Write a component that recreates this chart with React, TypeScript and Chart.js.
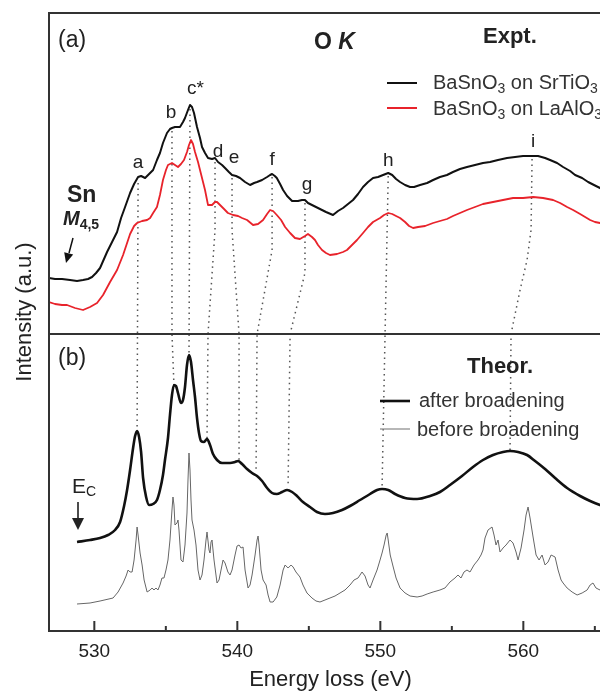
import React, { useEffect, useRef } from 'react';
import { Chart, registerables } from 'chart.js';

Chart.register(...registerables);

const FONT = '"Liberation Sans", Arial, Helvetica, sans-serif';

// ---- axis ----
const xMin = 526.83;
const xMax = 566.2;
const yMin = 0;
const yMax = 618;
const xMajorTicks = [530, 540, 550, 560];
const xMinorTicks = [535, 545, 555, 565];
const panelDivider = 297; // intensity level separating panel (a) and (b)

// ---- (a) experiment: BaSnO3 on SrTiO3 (energy eV, intensity a.u.) ----
const expSTO: [number, number][] = [
  [526.83, 353], [527.25, 352], [527.74, 352], [528.3, 351], [528.79, 350], [529.21, 351], [529.56, 352],
  [529.84, 354], [530.12, 358], [530.4, 363], [530.89, 379], [531.24, 389], [531.59, 399], [531.87, 413],
  [532.15, 424], [532.5, 438], [532.78, 447], [533.06, 454], [533.27, 455], [533.55, 453], [533.83, 457],
  [534.11, 461], [534.38, 471], [534.59, 478], [534.8, 488], [535.08, 498], [535.29, 502], [535.43, 503],
  [535.64, 504], [535.99, 504], [536.2, 509], [536.34, 513], [536.55, 521], [536.69, 526], [536.83, 524],
  [536.97, 518], [537.18, 504], [537.39, 493], [537.53, 484], [537.74, 478], [537.95, 473], [538.23, 472],
  [538.44, 473], [538.65, 469], [538.93, 466], [539.14, 463], [539.41, 459], [539.63, 456], [539.91, 455],
  [540.19, 453], [540.54, 449], [540.89, 446], [541.17, 448], [541.38, 449], [541.73, 451], [542.08, 454],
  [542.29, 456], [542.43, 457], [542.62, 455], [542.76, 453], [542.99, 447], [543.2, 441], [543.48, 435],
  [543.83, 430], [544.24, 430], [544.52, 431], [544.73, 431], [544.94, 428], [545.22, 426], [545.5, 424],
  [545.78, 422], [546.2, 419], [546.69, 416], [547.04, 420], [547.39, 423], [547.74, 427], [548.09, 431],
  [548.44, 437], [548.79, 444], [549.14, 449], [549.49, 453], [549.84, 454], [550.19, 456], [550.55, 458],
  [550.83, 456], [551.1, 452], [551.38, 449], [551.73, 446], [552.08, 444], [552.36, 444], [552.78, 446],
  [553.27, 448], [553.69, 451], [554.17, 454], [554.66, 456], [555.08, 459], [555.57, 462], [556.06, 464],
  [556.62, 466], [557.18, 468], [557.67, 469], [558.23, 471], [558.86, 473], [559.42, 474], [559.98, 475],
  [560.61, 475], [561.03, 475], [561.52, 473], [561.87, 471], [562.36, 468], [562.78, 464], [563.27, 460],
  [563.62, 456], [564.11, 453], [564.53, 449], [564.94, 446], [565.36, 443], [566.2, 437],
];

// ---- (a) experiment: BaSnO3 on LaAlO3 ----
const expLAO: [number, number][] = [
  [526.83, 329], [527.25, 327], [527.74, 326], [528.09, 326], [528.65, 323], [529.21, 321], [529.7, 324],
  [530.19, 328], [530.61, 336], [531.1, 349], [531.59, 361], [532.01, 376], [532.5, 397], [532.78, 405],
  [532.99, 408], [533.34, 410], [533.69, 411], [533.9, 413], [534.11, 418], [534.38, 424], [534.59, 436],
  [534.8, 451], [535.01, 461], [535.15, 466], [535.43, 468], [535.64, 466], [535.85, 464], [536.06, 467],
  [536.27, 471], [536.48, 479], [536.62, 486], [536.76, 491], [536.9, 487], [537.04, 479], [537.25, 469],
  [537.39, 461], [537.6, 449], [537.74, 441], [537.95, 426], [538.23, 426], [538.44, 429], [538.58, 429],
  [538.79, 426], [539.07, 422], [539.34, 418], [539.7, 416], [540.05, 415], [540.33, 413], [540.68, 411],
  [541.1, 406], [541.45, 407], [541.8, 411], [542.08, 417], [542.29, 421], [542.5, 420], [542.76, 416],
  [543.06, 411], [543.34, 404], [543.69, 398], [544.03, 393], [544.38, 392], [544.73, 395], [544.94, 397],
  [545.22, 394], [545.43, 391], [545.64, 386], [545.92, 381], [546.2, 378], [546.48, 376], [546.97, 377],
  [547.39, 379], [547.67, 381], [548.02, 386], [548.37, 391], [548.79, 398], [549.14, 404], [549.49, 409],
  [549.98, 413], [550.26, 416], [550.55, 418], [550.83, 417], [551.1, 415], [551.38, 413], [551.73, 409],
  [552.01, 405], [552.29, 403], [552.64, 404], [553.13, 405], [553.69, 408], [554.17, 410], [554.66, 412],
  [555.08, 415], [555.57, 418], [556.06, 421], [556.62, 424], [557.18, 427], [557.88, 429], [558.58, 431],
  [559.28, 433], [559.98, 433], [560.68, 434], [561.38, 433], [562.08, 431], [562.57, 428], [563.06, 424],
  [563.48, 421], [563.97, 417], [564.32, 414], [564.67, 411], [565.01, 409], [565.36, 408], [566.2, 404],
];

// ---- (b) theory after broadening ----
const theoBroad: [number, number][] = [
  [528.79, 89], [529.7, 91], [530.4, 93], [530.96, 96], [531.45, 101], [531.8, 109], [532.08, 125],
  [532.29, 141], [532.5, 161], [532.71, 183], [532.85, 195], [532.99, 200], [533.13, 194], [533.27, 179],
  [533.41, 153], [533.62, 134], [533.83, 126], [534.11, 127], [534.38, 131], [534.59, 141], [534.8, 156],
  [534.94, 171], [535.15, 193], [535.29, 216], [535.43, 236], [535.57, 246], [535.71, 245], [535.85, 238],
  [536.06, 228], [536.2, 231], [536.34, 244], [536.48, 266], [536.62, 276], [536.76, 269], [536.9, 251],
  [537.04, 234], [537.18, 213], [537.32, 198], [537.46, 190], [537.67, 189], [537.88, 192], [538.09, 186],
  [538.3, 177], [538.58, 171], [538.93, 168], [539.49, 168], [539.84, 169], [540.05, 170], [540.33, 167],
  [540.68, 162], [541.03, 158], [541.38, 155], [541.73, 150], [542.08, 143], [542.43, 138], [542.76, 137],
  [543.13, 139], [543.48, 141], [543.83, 139], [544.17, 135], [544.59, 129], [545.08, 124], [545.57, 119],
  [546.13, 117], [546.69, 118], [547.32, 121], [547.88, 125], [548.58, 131], [549.28, 137], [549.77, 141],
  [550.12, 142], [550.55, 141], [551.03, 137], [551.73, 133], [552.57, 132], [553.48, 135], [554.17, 139],
  [554.87, 146], [555.71, 155], [556.48, 164], [557.18, 171], [557.88, 176], [558.58, 179], [559.07, 180],
  [559.63, 179], [560.26, 176], [560.82, 170], [561.52, 162], [562.22, 153], [563.06, 143], [563.97, 135],
  [564.67, 130], [565.36, 126], [566.2, 122],
];

// ---- (b) theory before broadening ----
const theoRaw: [number, number][] = [
  [528.79, 27], [529.7, 28], [530.4, 30], [531.31, 33], [531.66, 39], [532.01, 48], [532.22, 55], [532.36, 61],
  [532.5, 59], [532.64, 59], [532.78, 71], [532.92, 91], [532.99, 104], [533.06, 96], [533.2, 78], [533.34, 66],
  [533.48, 51], [533.69, 39], [533.9, 41], [534.04, 43], [534.17, 41], [534.31, 43], [534.45, 41], [534.59, 46],
  [534.73, 53], [534.87, 53], [535.01, 61], [535.15, 71], [535.29, 91], [535.43, 121], [535.5, 134], [535.57, 126],
  [535.64, 106], [535.78, 108], [535.85, 111], [535.92, 101], [536.06, 71], [536.2, 69], [536.34, 86],
  [536.48, 118], [536.55, 151], [536.62, 178], [536.69, 161], [536.76, 131], [536.83, 111], [536.97, 101],
  [537.11, 86], [537.25, 61], [537.39, 51], [537.53, 56], [537.67, 71], [537.81, 91], [537.88, 99], [538.02, 81],
  [538.09, 78], [538.16, 89], [538.23, 91], [538.37, 71], [538.58, 48], [538.72, 51], [538.86, 61], [539.0, 71],
  [539.14, 68], [539.34, 59], [539.49, 56], [539.63, 61], [539.84, 76], [539.98, 85], [540.12, 86], [540.26, 83],
  [540.4, 84], [540.54, 61], [540.75, 43], [540.89, 46], [541.03, 56], [541.24, 76], [541.38, 91], [541.45, 95],
  [541.52, 86], [541.66, 61], [541.8, 51], [542.01, 46], [542.15, 36], [542.29, 29], [542.5, 29], [542.76, 34],
  [542.99, 46], [543.2, 61], [543.34, 66], [543.55, 63], [543.76, 66], [543.9, 64], [544.1, 59], [544.38, 54],
  [544.59, 46], [544.87, 38], [545.22, 33], [545.5, 30], [545.78, 29], [546.13, 31], [546.48, 33], [546.83, 35],
  [547.18, 38], [547.53, 41], [547.88, 46], [548.16, 51], [548.44, 53], [548.72, 59], [548.93, 55], [549.14, 46],
  [549.28, 43], [549.49, 51], [549.77, 61], [549.98, 71], [550.12, 78], [550.26, 86], [550.41, 96], [550.48, 98],
  [550.55, 91], [550.69, 76], [550.9, 64], [551.1, 53], [551.38, 43], [551.73, 38], [552.08, 35], [552.57, 34],
  [552.92, 35], [553.27, 37], [553.69, 39], [554.17, 41], [554.52, 43], [554.87, 49], [555.22, 53], [555.43, 56],
  [555.64, 53], [555.85, 59], [556.06, 61], [556.27, 59], [556.55, 66], [556.83, 71], [557.04, 76], [557.18, 81],
  [557.32, 93], [557.53, 101], [557.81, 104], [557.95, 96], [558.09, 86], [558.23, 91], [558.37, 79], [558.58, 83],
  [558.79, 86], [559.07, 91], [559.28, 88], [559.49, 79], [559.63, 71], [559.84, 83], [560.05, 101], [560.19, 116],
  [560.33, 124], [560.47, 113], [560.68, 94], [560.89, 76], [561.1, 71], [561.31, 76], [561.52, 66], [561.73, 69],
  [561.94, 76], [562.22, 74], [562.43, 61], [562.64, 51], [562.78, 48], [563.06, 43], [563.41, 39], [563.76, 36],
  [564.11, 38], [564.46, 41], [564.67, 46], [564.87, 48], [565.08, 43], [565.36, 41], [565.8, 48], [566.2, 45],
];

// ---- dotted guide lines connecting features (energy, intensity) ----
const guideA: [number, number][] = [[533.06, 448], [532.99, 201]];
const guideB: [number, number][] = [[535.43, 500], [535.43, 297], [535.57, 245]];
const guideC: [number, number][] = [[536.69, 522], [536.62, 275]];
const guideD: [number, number][] = [[538.44, 469], [538.44, 401], [537.95, 297], [537.88, 193]];
const guideE: [number, number][] = [[539.63, 453], [539.63, 401], [540.12, 297], [540.12, 171]];
const guideF: [number, number][] = [[542.43, 454], [542.43, 381], [541.38, 297], [541.31, 161]];
const guideG: [number, number][] = [[544.73, 428], [544.73, 358], [543.69, 297], [543.55, 146]];
const guideH: [number, number][] = [[550.55, 455], [550.33, 297], [550.12, 143]];
const guideI: [number, number][] = [[560.61, 472], [560.54, 401], [560.26, 371], [559.77, 341], [559.14, 297], [559.07, 181]];
const guides = [guideA, guideB, guideC, guideD, guideE, guideF, guideG, guideH, guideI];

// ---- feature labels ----
const featureNames = ['a', 'b', 'c*', 'd', 'e', 'f', 'g', 'h', 'i'];
const featureLabelE = [533.06, 535.36, 537.07, 538.65, 539.77, 542.43, 544.87, 550.55, 560.68];
const featureLabelI = [463, 513, 537, 474, 468, 466, 441, 465, 484];

type Seg = { t: string; font: string; dy?: number };

function drawRich(ctx: CanvasRenderingContext2D, x: number, y: number, segs: Seg[]) {
  let cx = x;
  for (const s of segs) {
    ctx.font = s.font;
    ctx.fillText(s.t, cx, y + (s.dy || 0));
    cx += ctx.measureText(s.t).width;
  }
}

const TEXT = '#222';

const decorPlugin = {
  id: 'decor',
  afterDraw(chart: any) {
    const { ctx, chartArea, scales } = chart;
    const xs = scales.x;
    const ys = scales.y;
    const { left, right, top, bottom } = chartArea;
    ctx.save();
    // frame
    ctx.strokeStyle = '#333';
    ctx.lineWidth = 2;
    ctx.lineCap = 'butt';
    ctx.beginPath();
    ctx.moveTo(left, bottom);
    ctx.lineTo(left, top);
    ctx.lineTo(right + 2, top);
    const yd = ys.getPixelForValue(panelDivider);
    ctx.moveTo(left, yd);
    ctx.lineTo(right + 2, yd);
    ctx.moveTo(left - 1, bottom);
    ctx.lineTo(right + 2, bottom);
    ctx.stroke();
    // inward ticks
    ctx.beginPath();
    for (const v of xMajorTicks) {
      const px = xs.getPixelForValue(v);
      ctx.moveTo(px, bottom);
      ctx.lineTo(px, bottom - 10);
    }
    for (const v of xMinorTicks) {
      const px = xs.getPixelForValue(v);
      ctx.moveTo(px, bottom);
      ctx.lineTo(px, bottom - 5);
    }
    ctx.stroke();

    ctx.fillStyle = TEXT;
    ctx.textBaseline = 'alphabetic';
    ctx.textAlign = 'left';

    // panel labels
    ctx.font = `23px ${FONT}`;
    ctx.fillText('(a)', left + 9, top + 34);
    ctx.fillText('(b)', left + 9, yd + 31);

    drawRich(ctx, 314, top + 36, [
      { t: 'O ', font: `bold 23px ${FONT}` },
      { t: 'K', font: `italic bold 23px ${FONT}` },
    ]);
    ctx.font = `bold 22px ${FONT}`;
    ctx.fillText('Expt.', 483, top + 30);
    ctx.fillText('Theor.', 467, yd + 39);

    // legend (a)
    ctx.lineWidth = 2;
    ctx.strokeStyle = '#111';
    ctx.beginPath();
    ctx.moveTo(387, 83);
    ctx.lineTo(417, 83);
    ctx.stroke();
    ctx.strokeStyle = '#e8232b';
    ctx.beginPath();
    ctx.moveTo(387, 108);
    ctx.lineTo(417, 108);
    ctx.stroke();
    ctx.fillStyle = '#333';
    const f20 = `20px ${FONT}`;
    const f14 = `14px ${FONT}`;
    drawRich(ctx, 433, 89, [
      { t: 'BaSnO', font: f20 }, { t: '3', font: f14, dy: 4 },
      { t: ' on SrTiO', font: f20 }, { t: '3', font: f14, dy: 4 },
    ]);
    drawRich(ctx, 433, 115, [
      { t: 'BaSnO', font: f20 }, { t: '3', font: f14, dy: 4 },
      { t: ' on LaAlO', font: f20 }, { t: '3', font: f14, dy: 4 },
    ]);

    // legend (b)
    ctx.strokeStyle = '#111';
    ctx.lineWidth = 2.6;
    ctx.beginPath();
    ctx.moveTo(380, 401);
    ctx.lineTo(410, 401);
    ctx.stroke();
    ctx.strokeStyle = '#888';
    ctx.lineWidth = 1.2;
    ctx.beginPath();
    ctx.moveTo(380, 429);
    ctx.lineTo(410, 429);
    ctx.stroke();
    ctx.font = f20;
    ctx.fillText('after broadening', 419, 407);
    ctx.fillText('before broadening', 417, 436);

    // feature labels
    ctx.fillStyle = TEXT;
    ctx.font = `19px ${FONT}`;
    ctx.textAlign = 'center';
    featureNames.forEach((n, i) => {
      ctx.fillText(n, xs.getPixelForValue(featureLabelE[i]), ys.getPixelForValue(featureLabelI[i]));
    });
    ctx.textAlign = 'left';

    // Sn M4,5
    ctx.font = `bold 23px ${FONT}`;
    ctx.fillText('Sn', 67, 202);
    drawRich(ctx, 63, 225, [
      { t: 'M', font: `italic bold 20px ${FONT}` },
      { t: '4,5', font: `bold 14px ${FONT}`, dy: 4 },
    ]);
    ctx.strokeStyle = '#111';
    ctx.fillStyle = '#111';
    ctx.lineWidth = 1.5;
    ctx.beginPath();
    ctx.moveTo(73, 238);
    ctx.lineTo(69, 253);
    ctx.stroke();
    ctx.beginPath();
    ctx.moveTo(66, 263);
    ctx.lineTo(73.2, 254.6);
    ctx.lineTo(64.2, 252.2);
    ctx.closePath();
    ctx.fill();

    // E_C
    ctx.fillStyle = TEXT;
    drawRich(ctx, 72, 493, [
      { t: 'E', font: `21px ${FONT}` },
      { t: 'C', font: `14px ${FONT}`, dy: 3 },
    ]);
    ctx.beginPath();
    ctx.moveTo(78, 502);
    ctx.lineTo(78, 520);
    ctx.stroke();
    ctx.beginPath();
    ctx.moveTo(72, 518);
    ctx.lineTo(84, 518);
    ctx.lineTo(78, 530);
    ctx.closePath();
    ctx.fill();

    // y-axis title
    ctx.save();
    ctx.translate(25, 312);
    ctx.rotate(-Math.PI / 2);
    ctx.textAlign = 'center';
    ctx.textBaseline = 'middle';
    ctx.font = `22px ${FONT}`;
    ctx.fillStyle = TEXT;
    ctx.fillText('Intensity (a.u.)', 0, 0);
    ctx.restore();

    ctx.restore();
  },
};

const toXY = (arr: [number, number][]) => arr.map(([x, y]) => ({ x, y }));

export default function App() {
  const ref = useRef<HTMLCanvasElement>(null);
  useEffect(() => {
    if (!ref.current) return;
    const chart = new Chart(ref.current, {
      type: 'line',
      data: {
        datasets: [
          { label: 'BaSnO3 on SrTiO3', data: toXY(expSTO), borderColor: '#111', borderWidth: 2, pointRadius: 0, tension: 0, borderJoinStyle: 'round' },
          { label: 'BaSnO3 on LaAlO3', data: toXY(expLAO), borderColor: '#e8232b', borderWidth: 1.8, pointRadius: 0, tension: 0, borderJoinStyle: 'round' },
          { label: 'after broadening', data: toXY(theoBroad), borderColor: '#111', borderWidth: 2.6, pointRadius: 0, cubicInterpolationMode: 'monotone', borderJoinStyle: 'round' },
          { label: 'before broadening', data: toXY(theoRaw), borderColor: '#666', borderWidth: 1, pointRadius: 0, tension: 0, borderJoinStyle: 'round' },
          ...guides.map((g) => ({
            label: '',
            data: toXY(g),
            borderColor: '#555',
            borderWidth: 1.5,
            borderDash: [1.5, 4],
            pointRadius: 0,
            tension: 0,
          })),
        ] as any,
      },
      options: {
        animation: false,
        responsive: true,
        maintainAspectRatio: false,
        layout: { padding: { left: 49, top: 13, right: 0, bottom: 0 } },
        plugins: { legend: { display: false }, tooltip: { enabled: false } },
        scales: {
          x: {
            type: 'linear',
            min: xMin,
            max: xMax,
            afterBuildTicks: (scale: any) => {
              scale.ticks = xMajorTicks.map((v) => ({ value: v }));
            },
            afterFit: (scale: any) => {
              scale.height = 63;
            },
            grid: { display: false, drawTicks: false },
            border: { display: false },
            ticks: {
              padding: 9,
              color: TEXT,
              font: { family: FONT, size: 19 },
              maxRotation: 0,
              callback: (v: any) => String(v),
            },
            title: {
              display: true,
              text: 'Energy loss (eV)',
              color: TEXT,
              font: { family: FONT, size: 22 },
              padding: { top: 0, bottom: 1 },
            },
          },
          y: {
            type: 'linear',
            min: yMin,
            max: yMax,
            display: false,
          },
        },
      } as any,
      plugins: [decorPlugin],
    });
    return () => chart.destroy();
  }, []);
  return (
    <div style={{ position: 'fixed', left: 0, top: 0, width: 600, height: 694, overflow: 'hidden', background: '#fff' }}>
      <div style={{ position: 'relative', width: 612, height: 694 }}>
        <canvas ref={ref} />
      </div>
    </div>
  );
}
